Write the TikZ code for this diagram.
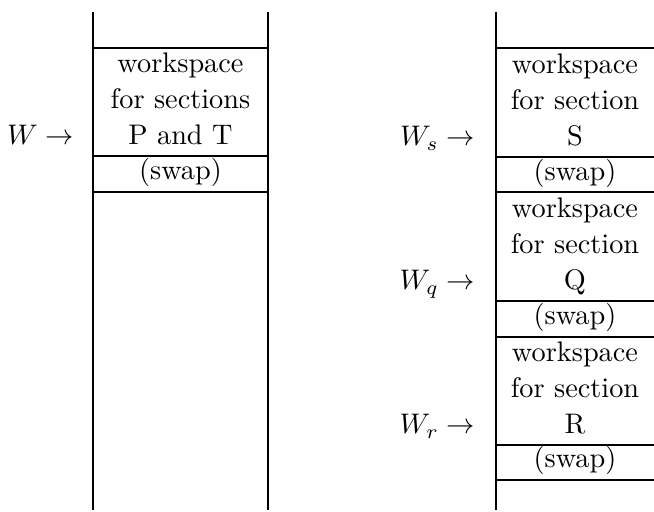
\documentclass[tikz,border=0pt]{standalone}
\begin{document}
\begin{tikzpicture}[x=0.3533pt,y=-0.3533pt,line width=0.7pt,
  txt/.style={anchor=base,inner sep=0pt,font=\fontsize{10}{12}\selectfont},
  lbl/.style={anchor=base east,inner sep=0pt,font=\fontsize{10}{12}\selectfont},
  rule/.style={line width=0.7pt}]
\useasboundingbox (0,0) rectangle (654,512);
% left column
\draw[rule] (93,12) -- (93,510);
\draw[rule] (268,12) -- (268,510);
\foreach \y in {48,156,192} \draw[rule] (93,\y) -- (268,\y);
\node[txt] (l1) at (180.5,73) {workspace};
\node[txt] (l2) at (180.5,109) {for sections};
\node[txt] (l3) at (180.5,145) {P and T};
\node[txt] (l4) at (180.5,180) {(swap)};
\node[lbl] (W) at (75,145) {$W\rightarrow$};
% right column
\draw[rule] (496,12) -- (496,510);
\foreach \y in {48,157,192,301,337,445,480} \draw[rule] (496,\y) -- (654,\y);
\node[txt] (s1) at (575,74) {workspace};
\node[txt] (s2) at (575,110) {for section};
\node[txt] (s3) at (575,146) {S};
\node[txt] (s4) at (575,180.5) {(swap)};
\node[txt] (q1) at (575,218) {workspace};
\node[txt] (q2) at (575,254) {for section};
\node[txt] (q3) at (575,290) {Q};
\node[txt] (q4) at (575,325) {(swap)};
\node[txt] (r1) at (575,362) {workspace};
\node[txt] (r2) at (575,398) {for section};
\node[txt] (r3) at (575,434) {R};
\node[txt] (r4) at (575,468) {(swap)};
\node[lbl] (Ws) at (476,146) {$W_s\rightarrow$};
\node[lbl] (Wq) at (476,290) {$W_q\rightarrow$};
\node[lbl] (Wr) at (476,434) {$W_r\rightarrow$};
\end{tikzpicture}
\end{document}
